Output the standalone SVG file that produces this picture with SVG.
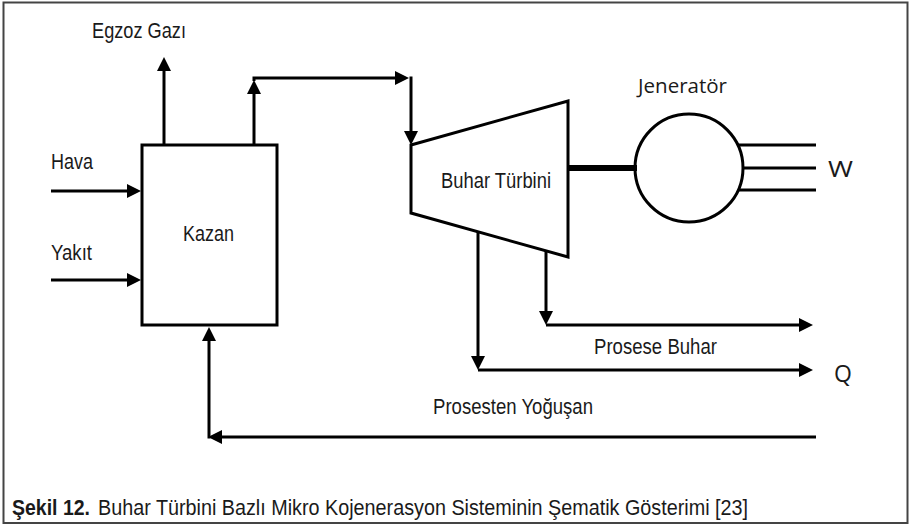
<svg xmlns="http://www.w3.org/2000/svg" width="910" height="526" viewBox="0 0 910 526">
<style>
.sh{fill:none;stroke:#000;stroke-width:3;stroke-linejoin:miter}
.ln{fill:none;stroke:#000;stroke-width:3}
.t{font-family:"Liberation Sans",Arial,sans-serif;font-size:22px;fill:#1a1a1a}
.c{font-family:"Open Sans","Noto Sans",sans-serif;fill:#1a1a1a}
</style>
<defs>
<marker id="ah" viewBox="0 0 14 14" markerWidth="14" markerHeight="14" refX="4" refY="7" orient="auto" markerUnits="userSpaceOnUse">
<path d="M0,0 L14,7 L0,14 z" fill="#000"/>
</marker>
</defs>
<rect x="0" y="0" width="910" height="526" fill="#fff"/>
<rect x="3.5" y="2.5" width="904" height="520.5" fill="none" stroke="#444" stroke-width="2"/>

<g id="connectors">
<path class="ln" d="M51,191 H131" marker-end="url(#ah)"/>
<path class="ln" d="M51,280 H131" marker-end="url(#ah)"/>
<path class="ln" d="M164,145 V67" marker-end="url(#ah)"/>
<path class="ln" d="M254,145 V90" marker-end="url(#ah)"/>
<path class="ln" d="M254,81 V78 H399" marker-end="url(#ah)"/>
<path class="ln" d="M411,76.5 V135" marker-end="url(#ah)"/>
<path class="ln" d="M546,251 V315" marker-end="url(#ah)"/>
<path class="ln" d="M546,325 H803" marker-end="url(#ah)"/>
<path class="ln" d="M478,232 V360" marker-end="url(#ah)"/>
<path class="ln" d="M478,370 H803" marker-end="url(#ah)"/>
<path class="ln" d="M816,437 H218" marker-end="url(#ah)"/>
<path class="ln" d="M209,438.5 V337" marker-end="url(#ah)"/>
<line x1="568" y1="168" x2="637" y2="168" stroke="#000" stroke-width="6"/>
<line class="ln" x1="738" y1="145" x2="816" y2="145"/>
<line class="ln" x1="743" y1="168" x2="816" y2="168"/>
<line class="ln" x1="738" y1="190" x2="816" y2="190"/>
<text class="t" x="92" y="38" textLength="94" lengthAdjust="spacingAndGlyphs">Egzoz Gazı</text>
<text class="t" x="51" y="169" textLength="42" lengthAdjust="spacingAndGlyphs">Hava</text>
<text class="t" x="51" y="260" textLength="41" lengthAdjust="spacingAndGlyphs">Yakıt</text>
<text class="t" x="594" y="354" textLength="123" lengthAdjust="spacingAndGlyphs">Prosese Buhar</text>
<text class="t" x="433" y="414" textLength="160" lengthAdjust="spacingAndGlyphs">Prosesten Yoğuşan</text>
<text class="c" x="828" y="177" font-size="22" textLength="25" lengthAdjust="spacingAndGlyphs">W</text>
<text class="c" x="834" y="382" font-size="23">Q</text>
</g>

<g id="kazan">
<rect class="sh" x="142" y="145" width="135" height="180"/>
<text class="t" x="183" y="241" textLength="51" lengthAdjust="spacingAndGlyphs">Kazan</text>
</g>

<g id="buhar-turbini">
<polygon class="sh" points="411,145 568,101 568,257 411,213"/>
<text class="t" x="441" y="188" textLength="110" lengthAdjust="spacingAndGlyphs">Buhar Türbini</text>
</g>

<g id="jenerator">
<circle class="sh" cx="689" cy="168" r="54"/>
<text class="c" x="638" y="93" font-size="20" textLength="89" lengthAdjust="spacingAndGlyphs">Jeneratör</text>
</g>

<g id="caption">
<text class="t" x="12" y="515" font-weight="bold" textLength="78" lengthAdjust="spacingAndGlyphs">Şekil 12.</text>
<text class="t" x="98" y="515" textLength="650" lengthAdjust="spacingAndGlyphs">Buhar Türbini Bazlı Mikro Kojenerasyon Sisteminin Şematik Gösterimi [23]</text>
</g>
</svg>
